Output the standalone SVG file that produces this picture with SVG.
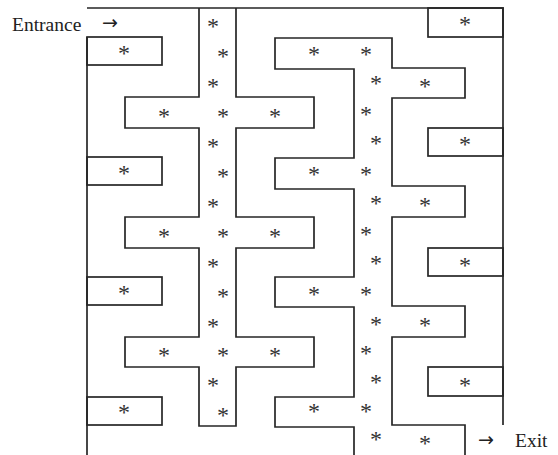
<svg xmlns="http://www.w3.org/2000/svg" width="558" height="455" viewBox="0 0 558 455">
<style>
.w{fill:none;stroke:#262626;stroke-width:1.7;stroke-linejoin:miter}
.s{font-family:"Liberation Serif","DejaVu Serif",serif;font-size:24px;fill:#333;text-anchor:middle}
.t{font-family:"Liberation Serif","DejaVu Serif",serif;font-size:19.5px;fill:#222}
.a{font-family:"DejaVu Sans","Liberation Sans",sans-serif;font-size:19px;fill:#222;text-anchor:middle}
</style>
<rect width="558" height="455" fill="#fff"/>
<g id="walls">
<polyline class="w" points="87,8 503,8 503,425"/>
<polyline class="w" points="87,37 87,455"/>
<g id="left-boxes">
<rect class="w" x="87" y="37" width="75" height="28"/>
<rect class="w" x="87" y="157" width="75" height="28"/>
<rect class="w" x="87" y="277" width="75" height="28"/>
<rect class="w" x="87" y="397" width="75" height="28"/>
</g>
<polyline id="cross-column" class="w" points="199,8 199,97 125,97 125,128 199,128 199,217 125,217 125,248 199,248 199,337 125,337 125,367 199,367 199,426 236,426 236,367 314,367 314,337 236,337 236,248 314,248 314,217 236,217 236,128 314,128 314,97 236,97 236,8"/>
<polyline id="third-column" class="w" points="354,455 354,427 275,427 275,397 354,397 354,307 275,307 275,277 354,277 354,189 275,189 275,158 354,158 354,69 275,69 275,38 392,38 392,68 465,68 465,98 392,98 392,186 465,186 465,217 392,217 392,306 465,306 465,337 392,337 392,425 465,425 465,455"/>
<g id="right-boxes">
<rect class="w" x="428" y="8" width="75" height="29"/>
<rect class="w" x="428" y="128" width="75" height="28"/>
<rect class="w" x="428" y="248" width="75" height="28"/>
<rect class="w" x="428" y="367" width="75" height="29"/>
</g>
</g>
<g id="stars">
<text class="s" x="124" y="61">*</text>
<text class="s" x="124" y="181">*</text>
<text class="s" x="124" y="301">*</text>
<text class="s" x="124" y="420">*</text>
<text class="s" x="213" y="34">*</text>
<text class="s" x="223" y="64">*</text>
<text class="s" x="213" y="94">*</text>
<text class="s" x="164" y="124">*</text>
<text class="s" x="223" y="124">*</text>
<text class="s" x="275" y="124">*</text>
<text class="s" x="213" y="154">*</text>
<text class="s" x="223" y="184">*</text>
<text class="s" x="213" y="214">*</text>
<text class="s" x="164" y="244">*</text>
<text class="s" x="223" y="244">*</text>
<text class="s" x="275" y="244">*</text>
<text class="s" x="213" y="274">*</text>
<text class="s" x="223" y="304">*</text>
<text class="s" x="213" y="334">*</text>
<text class="s" x="164" y="363">*</text>
<text class="s" x="223" y="363">*</text>
<text class="s" x="275" y="363">*</text>
<text class="s" x="213" y="393">*</text>
<text class="s" x="223" y="423">*</text>
<text class="s" x="314" y="62">*</text>
<text class="s" x="366" y="62">*</text>
<text class="s" x="376" y="91">*</text>
<text class="s" x="425" y="94">*</text>
<text class="s" x="366" y="122">*</text>
<text class="s" x="376" y="151">*</text>
<text class="s" x="314" y="182">*</text>
<text class="s" x="366" y="182">*</text>
<text class="s" x="376" y="211">*</text>
<text class="s" x="425" y="213">*</text>
<text class="s" x="366" y="242">*</text>
<text class="s" x="376" y="271">*</text>
<text class="s" x="314" y="302">*</text>
<text class="s" x="366" y="302">*</text>
<text class="s" x="376" y="332">*</text>
<text class="s" x="425" y="333">*</text>
<text class="s" x="366" y="361">*</text>
<text class="s" x="376" y="390">*</text>
<text class="s" x="314" y="419">*</text>
<text class="s" x="366" y="419">*</text>
<text class="s" x="376" y="447">*</text>
<text class="s" x="425" y="451">*</text>
<text class="s" x="465" y="32">*</text>
<text class="s" x="465" y="152">*</text>
<text class="s" x="465" y="273">*</text>
<text class="s" x="465" y="393">*</text>
</g>
<g id="labels">
<text class="t" x="12" y="31">Entrance</text>
<text class="a" x="110" y="29">→</text>
<text class="a" x="486" y="446">→</text>
<text class="t" x="515" y="447">Exit</text>
</g>
</svg>
